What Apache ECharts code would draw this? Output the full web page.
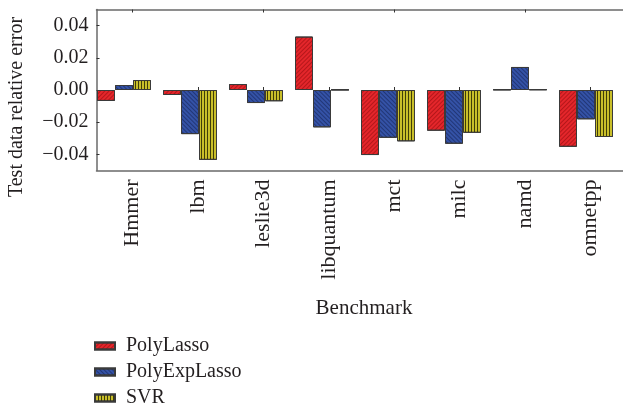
<!DOCTYPE html>
<html>
<head>
<meta charset="utf-8">
<script src="https://cdn.jsdelivr.net/npm/echarts@6/dist/echarts.min.js"></script>
<style>
html,body{margin:0;padding:0;background:#fff;}
#chart{width:623px;height:411px;}
</style>
</head>
<body>
<div id="chart"></div>
<script>
var categories = ['Hmmer', 'lbm', 'leslie3d', 'libquantum', 'mct', 'milc', 'namd', 'omnetpp'];
var polyLasso = [-0.0068, -0.0031, 0.0037, 0.0332, -0.0404, -0.0253, 0.0003, -0.0353];
var polyExpLasso = [0.0031, -0.0274, -0.0081, -0.0232, -0.0297, -0.0334, 0.0143, -0.0182];
var svr = [0.0062, -0.0434, -0.0070, 0.0002, -0.0319, -0.0266, 0.0004, -0.0292];
var yTicks = [-0.04, -0.02, 0.00, 0.02, 0.04];
var seriesNames = ['PolyLasso', 'PolyExpLasso', 'SVR'];

var FONT = '"Liberation Serif", "Times New Roman", serif';
var TXT = '#231f20';
var FRAME = '#6a6a6a';

var chart = echarts.init(document.getElementById('chart'), null, {renderer: 'canvas'});

function mk(name, data, color, decal) {
  return {
    name: name, type: 'bar', data: data,
    xAxisIndex: 0, yAxisIndex: 0,
    barWidth: 18, barGap: '0%',
    itemStyle: {color: color, borderColor: '#3a3a3a', borderWidth: 1, decal: decal},
    emphasis: {disabled: true}
  };
}

var option = {
  animation: false,
  backgroundColor: '#fff',
  grid: [
    {left: 91, width: 528, top: 9.5, height: 161},
    {left: 100, width: 528, top: 9.5, height: 161},
    {left: 96.5, right: -30, top: 9.5, height: 161}
  ],
  xAxis: [
    {gridIndex: 0, type: 'category', data: categories, show: false},
    {gridIndex: 1, type: 'category', data: categories, position: 'bottom',
     axisLine: {show: false},
     axisTick: {show: true, alignWithLabel: true, inside: true, length: 3, lineStyle: {color: '#333'}},
     axisLabel: {rotate: 90, margin: 9, fontFamily: FONT, fontSize: 22, color: TXT}},
    {gridIndex: 1, type: 'category', data: categories, position: 'top',
     axisLine: {show: false},
     axisTick: {show: true, alignWithLabel: true, inside: true, length: 3, lineStyle: {color: '#333'}},
     axisLabel: {show: false}},
    {gridIndex: 2, type: 'value', position: 'bottom', min: 0, max: 1,
     axisLine: {show: true, onZero: false, lineStyle: {color: FRAME, width: 1.5}},
     axisTick: {show: false}, axisLabel: {show: false}, splitLine: {show: false}},
    {gridIndex: 2, type: 'value', position: 'top', min: 0, max: 1,
     axisLine: {show: true, onZero: false, lineStyle: {color: FRAME, width: 1.5}},
     axisTick: {show: false}, axisLabel: {show: false}, splitLine: {show: false}}
  ],
  yAxis: [
    {gridIndex: 0, type: 'value', min: -0.05, max: 0.05, show: false},
    {gridIndex: 1, type: 'value', min: -0.05, max: 0.05, show: false},
    {gridIndex: 2, type: 'value', min: -0.05, max: 0.05, interval: 0.01,
     axisLine: {show: true, onZero: false, lineStyle: {color: FRAME, width: 1.5}},
     axisTick: {show: true, inside: true, length: 3, customValues: yTicks, lineStyle: {color: '#333'}},
     axisLabel: {customValues: yTicks, margin: 8, fontFamily: FONT, fontSize: 20, color: TXT,
       formatter: function (v) { return v.toFixed(2).replace('-', '\u2212'); }},
     splitLine: {show: false}}
  ],
  legend: {
    orient: 'vertical', left: 94, top: 336, height: 75, padding: 0,
    itemWidth: 20, itemHeight: 7, itemGap: 6,
    icon: 'rect',
    data: seriesNames,
    textStyle: {fontFamily: FONT, fontSize: 20, color: TXT, padding: [0, 0, 0, 6]}
  },
  graphic: [
    {type: 'text', x: 17, y: 107, rotation: Math.PI / 2,
     style: {text: 'Test data relative error', fontFamily: FONT, fontSize: 20, fill: TXT,
             textAlign: 'center', textVerticalAlign: 'middle'}},
    {type: 'text', x: 364, y: 308,
     style: {text: 'Benchmark', fontFamily: FONT, fontSize: 21, fill: TXT,
             textAlign: 'center', textVerticalAlign: 'middle'}}
  ],
  series: [
    mk(seriesNames[0], polyLasso, '#e4262b',
       {symbol: 'rect', color: 'rgba(110,0,0,0.4)', dashArrayX: [1, 0], dashArrayY: [1, 2], rotation: -Math.PI / 4}),
    mk(seriesNames[1], polyExpLasso, '#3452a6',
       {symbol: 'rect', color: 'rgba(10,20,60,0.45)', dashArrayX: [1, 0], dashArrayY: [1, 2], rotation: Math.PI / 4}),
    mk(seriesNames[2], svr, '#c9bf2a',
       {symbol: 'rect', color: 'rgba(30,30,0,0.8)', dashArrayX: [1, 2], dashArrayY: [4, 0], rotation: 0})
  ]
};
chart.setOption(option);
</script>
</body>
</html>
